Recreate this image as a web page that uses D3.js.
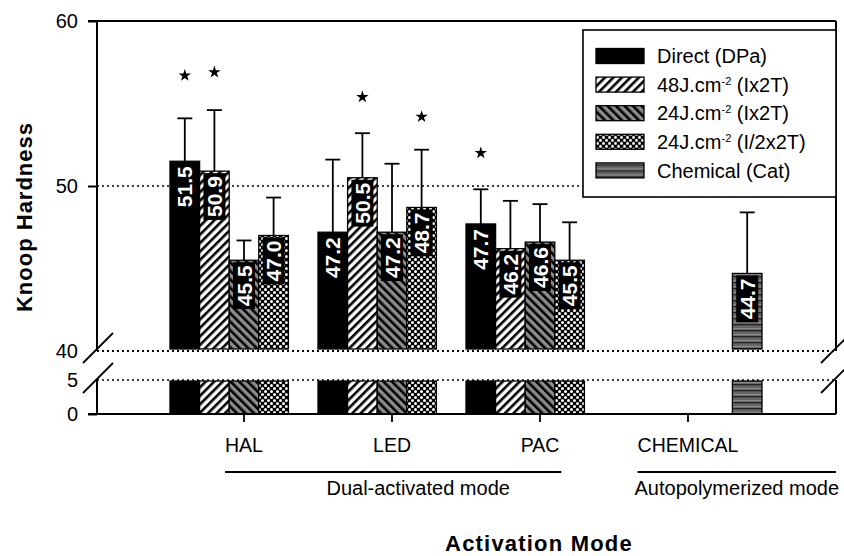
<!DOCTYPE html>
<html>
<head>
<meta charset="utf-8">
<script src="https://cdn.jsdelivr.net/npm/d3@7"></script>
<style>
  body { margin: 0; background: #fff; }
  svg { display: block; font-family: "Liberation Sans", Arial, sans-serif; }
</style>
</head>
<body>
<div class="chart"></div>
<script>
// Data
const categories = ['HAL', 'LED', 'PAC', 'CHEMICAL']
const seriesNames = ['Direct (DPa)', '48J.cm-2 (Ix2T)', '24J.cm-2 (Ix2T)', '24J.cm-2 (I/2x2T)', 'Chemical (Cat)']
const legendLabels = [
    ['Direct (DPa)', '', ''],
    ['48J.cm', '-2', ' (Ix2T)'],
    ['24J.cm', '-2', ' (Ix2T)'],
    ['24J.cm', '-2', ' (I/2x2T)'],
    ['Chemical (Cat)', '', '']
]
// mean values per category, one entry per series (null = no bar)
const means = [
    [51.5, 50.9, 45.5, 47.0, null],
    [47.2, 50.5, 47.2, 48.7, null],
    [47.7, 46.2, 46.6, 45.5, null],
    [null, null, null, null, 44.7]
]
// top of the error bar (mean + SD)
const errTops = [
    [54.1, 54.6, 46.7, 49.3, null],
    [51.6, 53.2, 51.35, 52.2, null],
    [49.8, 49.1, 48.9, 47.8, null],
    [null, null, null, null, 48.4]
]
// significance stars (value where the star sits, null = none)
const stars = [
    [56.7, 56.9, null, null, null],
    [null, 55.4, null, 54.2, null],
    [52.0, null, null, null, null],
    [null, null, null, null, null]
]
const upperTicks = [40, 50, 60]
const lowerTicks = [0, 5]
const groupNames = ['Dual-activated mode', 'Autopolymerized mode']
const groupSpans = [['HAL', 'PAC'], ['CHEMICAL', 'CHEMICAL']]

// Dimensions
const width = 844, height = 556
const plotLeft = 97, plotRight = 836, plotTop = 21, breakTop = 351, lowTop = 380, plotBottom = 414

const svg = d3.select('.chart')
    .append('svg')
    .attr('width', width)
    .attr('height', height)

// Patterns
const defs = svg.append('defs')

const p1 = defs.append('pattern').attr('id', 'p1')
    .attr('patternUnits', 'userSpaceOnUse').attr('width', 6).attr('height', 6)
    .attr('patternTransform', 'rotate(45)')
p1.append('rect').attr('width', 6).attr('height', 6).attr('fill', '#fff')
p1.append('rect').attr('width', 2.6).attr('height', 6).attr('fill', '#000')

const p2 = defs.append('pattern').attr('id', 'p2')
    .attr('patternUnits', 'userSpaceOnUse').attr('width', 6).attr('height', 6)
    .attr('patternTransform', 'rotate(-45)')
p2.append('rect').attr('width', 6).attr('height', 6).attr('fill', '#8c8c8c')
p2.append('rect').attr('width', 2.6).attr('height', 6).attr('fill', '#000')

const p3 = defs.append('pattern').attr('id', 'p3')
    .attr('patternUnits', 'userSpaceOnUse').attr('width', 6).attr('height', 6)
p3.append('rect').attr('width', 6).attr('height', 6).attr('fill', '#000')
p3.append('circle').attr('cx', 1.5).attr('cy', 1.5).attr('r', 1.5).attr('fill', '#fff')
p3.append('circle').attr('cx', 4.5).attr('cy', 4.5).attr('r', 1.5).attr('fill', '#fff')

const p4 = defs.append('pattern').attr('id', 'p4')
    .attr('patternUnits', 'userSpaceOnUse').attr('width', 6).attr('height', 6)
p4.append('rect').attr('width', 6).attr('height', 6).attr('fill', '#666')
p4.append('rect').attr('y', 0).attr('width', 6).attr('height', 1.3).attr('fill', '#222')
p4.append('rect').attr('y', 4.3).attr('width', 6).attr('height', 0.8).attr('fill', '#9a9a9a')

const fills = ['#000', 'url(#p1)', 'url(#p2)', 'url(#p3)', 'url(#p4)']

// Scales
const yUp = d3.scaleLinear().domain([40, 60]).range([breakTop, plotTop])
const yLow = d3.scaleLinear().domain([0, 5]).range([plotBottom, lowTop])

const x0 = d3.scaleBand().domain(categories).range([170, 762]).padding(0)
const x1 = d3.scaleBand().domain(d3.range(seriesNames.length)).range([0, x0.bandwidth()]).padding(0)

// Dotted reference lines
const dotted = [
    { y: yUp(50), w: 1.5 },
    { y: yUp(40), w: 2.2 },
    { y: yLow(5), w: 1.5 }
]
svg.selectAll('.dot-line')
    .data(dotted)
    .join('line')
    .attr('x1', plotLeft).attr('x2', plotRight)
    .attr('y1', d => d.y).attr('y2', d => d.y)
    .attr('stroke', '#000')
    .attr('stroke-width', d => d.w)
    .attr('stroke-dasharray', '2,3')

// Flatten bars
const bars = []
categories.forEach((c, i) => {
    means[i].forEach((v, s) => {
        if (v != null) bars.push({ cat: c, s: s, v: v, err: errTops[i][s], star: stars[i][s] })
    })
})
const barX = d => x0(d.cat) + x1(d.s)
const barCx = d => barX(d) + x1.bandwidth() / 2

// Error bars
const capW = 15
const eb = svg.append('g').attr('stroke', '#000').attr('stroke-width', 1.8)
bars.forEach(d => {
    const cx = barCx(d)
    eb.append('line').attr('x1', cx).attr('x2', cx).attr('y1', yUp(d.v)).attr('y2', yUp(d.err))
    eb.append('line').attr('x1', cx - capW / 2).attr('x2', cx + capW / 2).attr('y1', yUp(d.err)).attr('y2', yUp(d.err))
})

// Bars, upper part
svg.append('g')
    .selectAll('rect')
    .data(bars)
    .join('rect')
    .attr('x', barX)
    .attr('y', d => yUp(d.v))
    .attr('width', x1.bandwidth())
    .attr('height', d => yUp(40) - yUp(d.v) - 2)
    .attr('fill', d => fills[d.s])
    .attr('stroke', '#000')
    .attr('stroke-width', 1.3)

// Bars, lower part
svg.append('g')
    .selectAll('rect')
    .data(bars)
    .join('rect')
    .attr('x', barX)
    .attr('y', yLow(5) + 1)
    .attr('width', x1.bandwidth())
    .attr('height', yLow(0) - yLow(5) - 1)
    .attr('fill', d => fills[d.s])
    .attr('stroke', '#000')
    .attr('stroke-width', 1.3)

// Value labels (white on black)
const lab = svg.append('g')
bars.forEach(d => {
    const cx = barCx(d)
    const ty = yUp(d.v) + 5
    const g = lab.append('g')
    const box = g.append('rect').attr('fill', '#000')
    const t = g.append('text')
        .attr('transform', `translate(${cx},${ty}) rotate(-90)`)
        .attr('text-anchor', 'end')
        .attr('dy', '0.36em')
        .attr('fill', '#fff')
        .attr('font-weight', 'bold')
        .attr('font-size', 21)
        .text(d.v.toFixed(1))
    const len = t.node().getComputedTextLength()
    box.attr('x', cx - 11).attr('y', ty - 3).attr('width', 22).attr('height', len + 6)
})

// Stars
svg.append('g')
    .selectAll('path')
    .data(bars.filter(d => d.star != null))
    .join('path')
    .attr('d', d3.symbol(d3.symbolStar).size(48))
    .attr('transform', d => `translate(${barCx(d)},${yUp(d.star)})`)
    .attr('fill', '#000')

// Frame lines
const frame = svg.append('g').attr('stroke', '#000').attr('stroke-width', 2)
frame.append('line').attr('x1', plotLeft - 9).attr('x2', plotRight).attr('y1', plotTop).attr('y2', plotTop)
frame.append('line').attr('x1', plotLeft - 9).attr('x2', plotRight).attr('y1', plotBottom).attr('y2', plotBottom)
;[plotLeft, plotRight].forEach(x => {
    frame.append('line').attr('x1', x).attr('x2', x).attr('y1', plotTop).attr('y2', yUp(40))
    frame.append('line').attr('x1', x).attr('x2', x).attr('y1', yLow(5)).attr('y2', plotBottom)
})

// Break marks
const brk = svg.append('g').attr('stroke', '#000').attr('stroke-width', 1.8)
;[plotLeft + 1, plotRight].forEach(x => {
    ;[yUp(40) - 3, yLow(5) - 2].forEach(y => {
        brk.append('line').attr('x1', x - 15).attr('y1', y + 15).attr('x2', x + 15).attr('y2', y - 15)
    })
})

// Y axes
const styleAxis = g => {
    g.select('.domain').remove()
    g.selectAll('.tick line').attr('stroke-width', 2)
    g.selectAll('.tick text').attr('font-size', 20).attr('fill', '#000')
}
svg.append('g')
    .attr('transform', `translate(${plotLeft},0)`)
    .call(d3.axisLeft(yUp).tickValues(upperTicks).tickFormat(d3.format('d')).tickSize(9).tickPadding(10))
    .call(styleAxis)
    .selectAll('.tick').filter(d => d === 40).select('line').remove()
svg.append('g')
    .attr('transform', `translate(${plotLeft},0)`)
    .call(d3.axisLeft(yLow).tickValues(lowerTicks).tickFormat(d3.format('d')).tickSize(9).tickPadding(10))
    .call(styleAxis)
    .selectAll('.tick').filter(d => d === 5).select('line').remove()

// X axis
const xAxis = svg.append('g')
    .attr('transform', `translate(0,${plotBottom})`)
    .call(d3.axisBottom(x0).tickSize(8).tickPadding(16))
xAxis.select('.domain').remove()
xAxis.selectAll('.tick line').attr('stroke-width', 1.8)
xAxis.selectAll('.tick text').attr('font-size', 19.5).attr('fill', '#000')

// Group lines below the categories
const boxOf = c => xAxis.selectAll('.tick').filter(d => d === c).select('text').node().getBBox()
groupNames.forEach((name, i) => {
    const a = boxOf(groupSpans[i][0]), b = boxOf(groupSpans[i][1])
    const gx1 = x0(groupSpans[i][0]) + x0.bandwidth() / 2 + a.x
    const gx2 = i === groupNames.length - 1 ? plotRight : x0(groupSpans[i][1]) + x0.bandwidth() / 2 + b.x + b.width + 2
    svg.append('line')
        .attr('x1', gx1).attr('x2', gx2).attr('y1', 472).attr('y2', 472)
        .attr('stroke', '#000').attr('stroke-width', 2.2)
    svg.append('text')
        .attr('x', (gx1 + gx2) / 2 + (i === 0 ? 25 : 0))
        .attr('y', 495)
        .attr('text-anchor', 'middle')
        .attr('font-size', 20)
        .text(name)
})

// Axis titles
svg.append('text')
    .attr('transform', `translate(32,217) rotate(-90)`)
    .attr('text-anchor', 'middle')
    .attr('font-weight', 'bold')
    .attr('font-size', 22)
    .attr('letter-spacing', 1)
    .text('Knoop Hardness')

svg.append('text')
    .attr('x', 539)
    .attr('y', 551)
    .attr('text-anchor', 'middle')
    .attr('font-weight', 'bold')
    .attr('font-size', 22)
    .attr('letter-spacing', 1.2)
    .text('Activation Mode')

// Legend
const legend = svg.append('g').attr('transform', 'translate(583,30)')
legend.append('rect')
    .attr('width', 253).attr('height', 167)
    .attr('fill', '#fff').attr('stroke', '#000').attr('stroke-width', 1.6)
const rows = legend.selectAll('.row')
    .data(seriesNames)
    .join('g')
    .attr('transform', (d, i) => `translate(13,${26 + i * 28.6})`)
rows.append('rect')
    .attr('y', -7.5).attr('width', 48).attr('height', 15)
    .attr('fill', (d, i) => fills[i])
    .attr('stroke', '#000').attr('stroke-width', 1.3)
const lt = rows.append('text')
    .attr('x', 61)
    .attr('dy', '0.36em')
    .attr('font-size', 20)
lt.append('tspan').text((d, i) => legendLabels[i][0])
lt.append('tspan').attr('dy', -7).attr('font-size', 11).text((d, i) => legendLabels[i][1])
lt.append('tspan').attr('dy', (d, i) => legendLabels[i][1] ? 7 : 0).text((d, i) => legendLabels[i][2])
</script>
</body>
</html>
